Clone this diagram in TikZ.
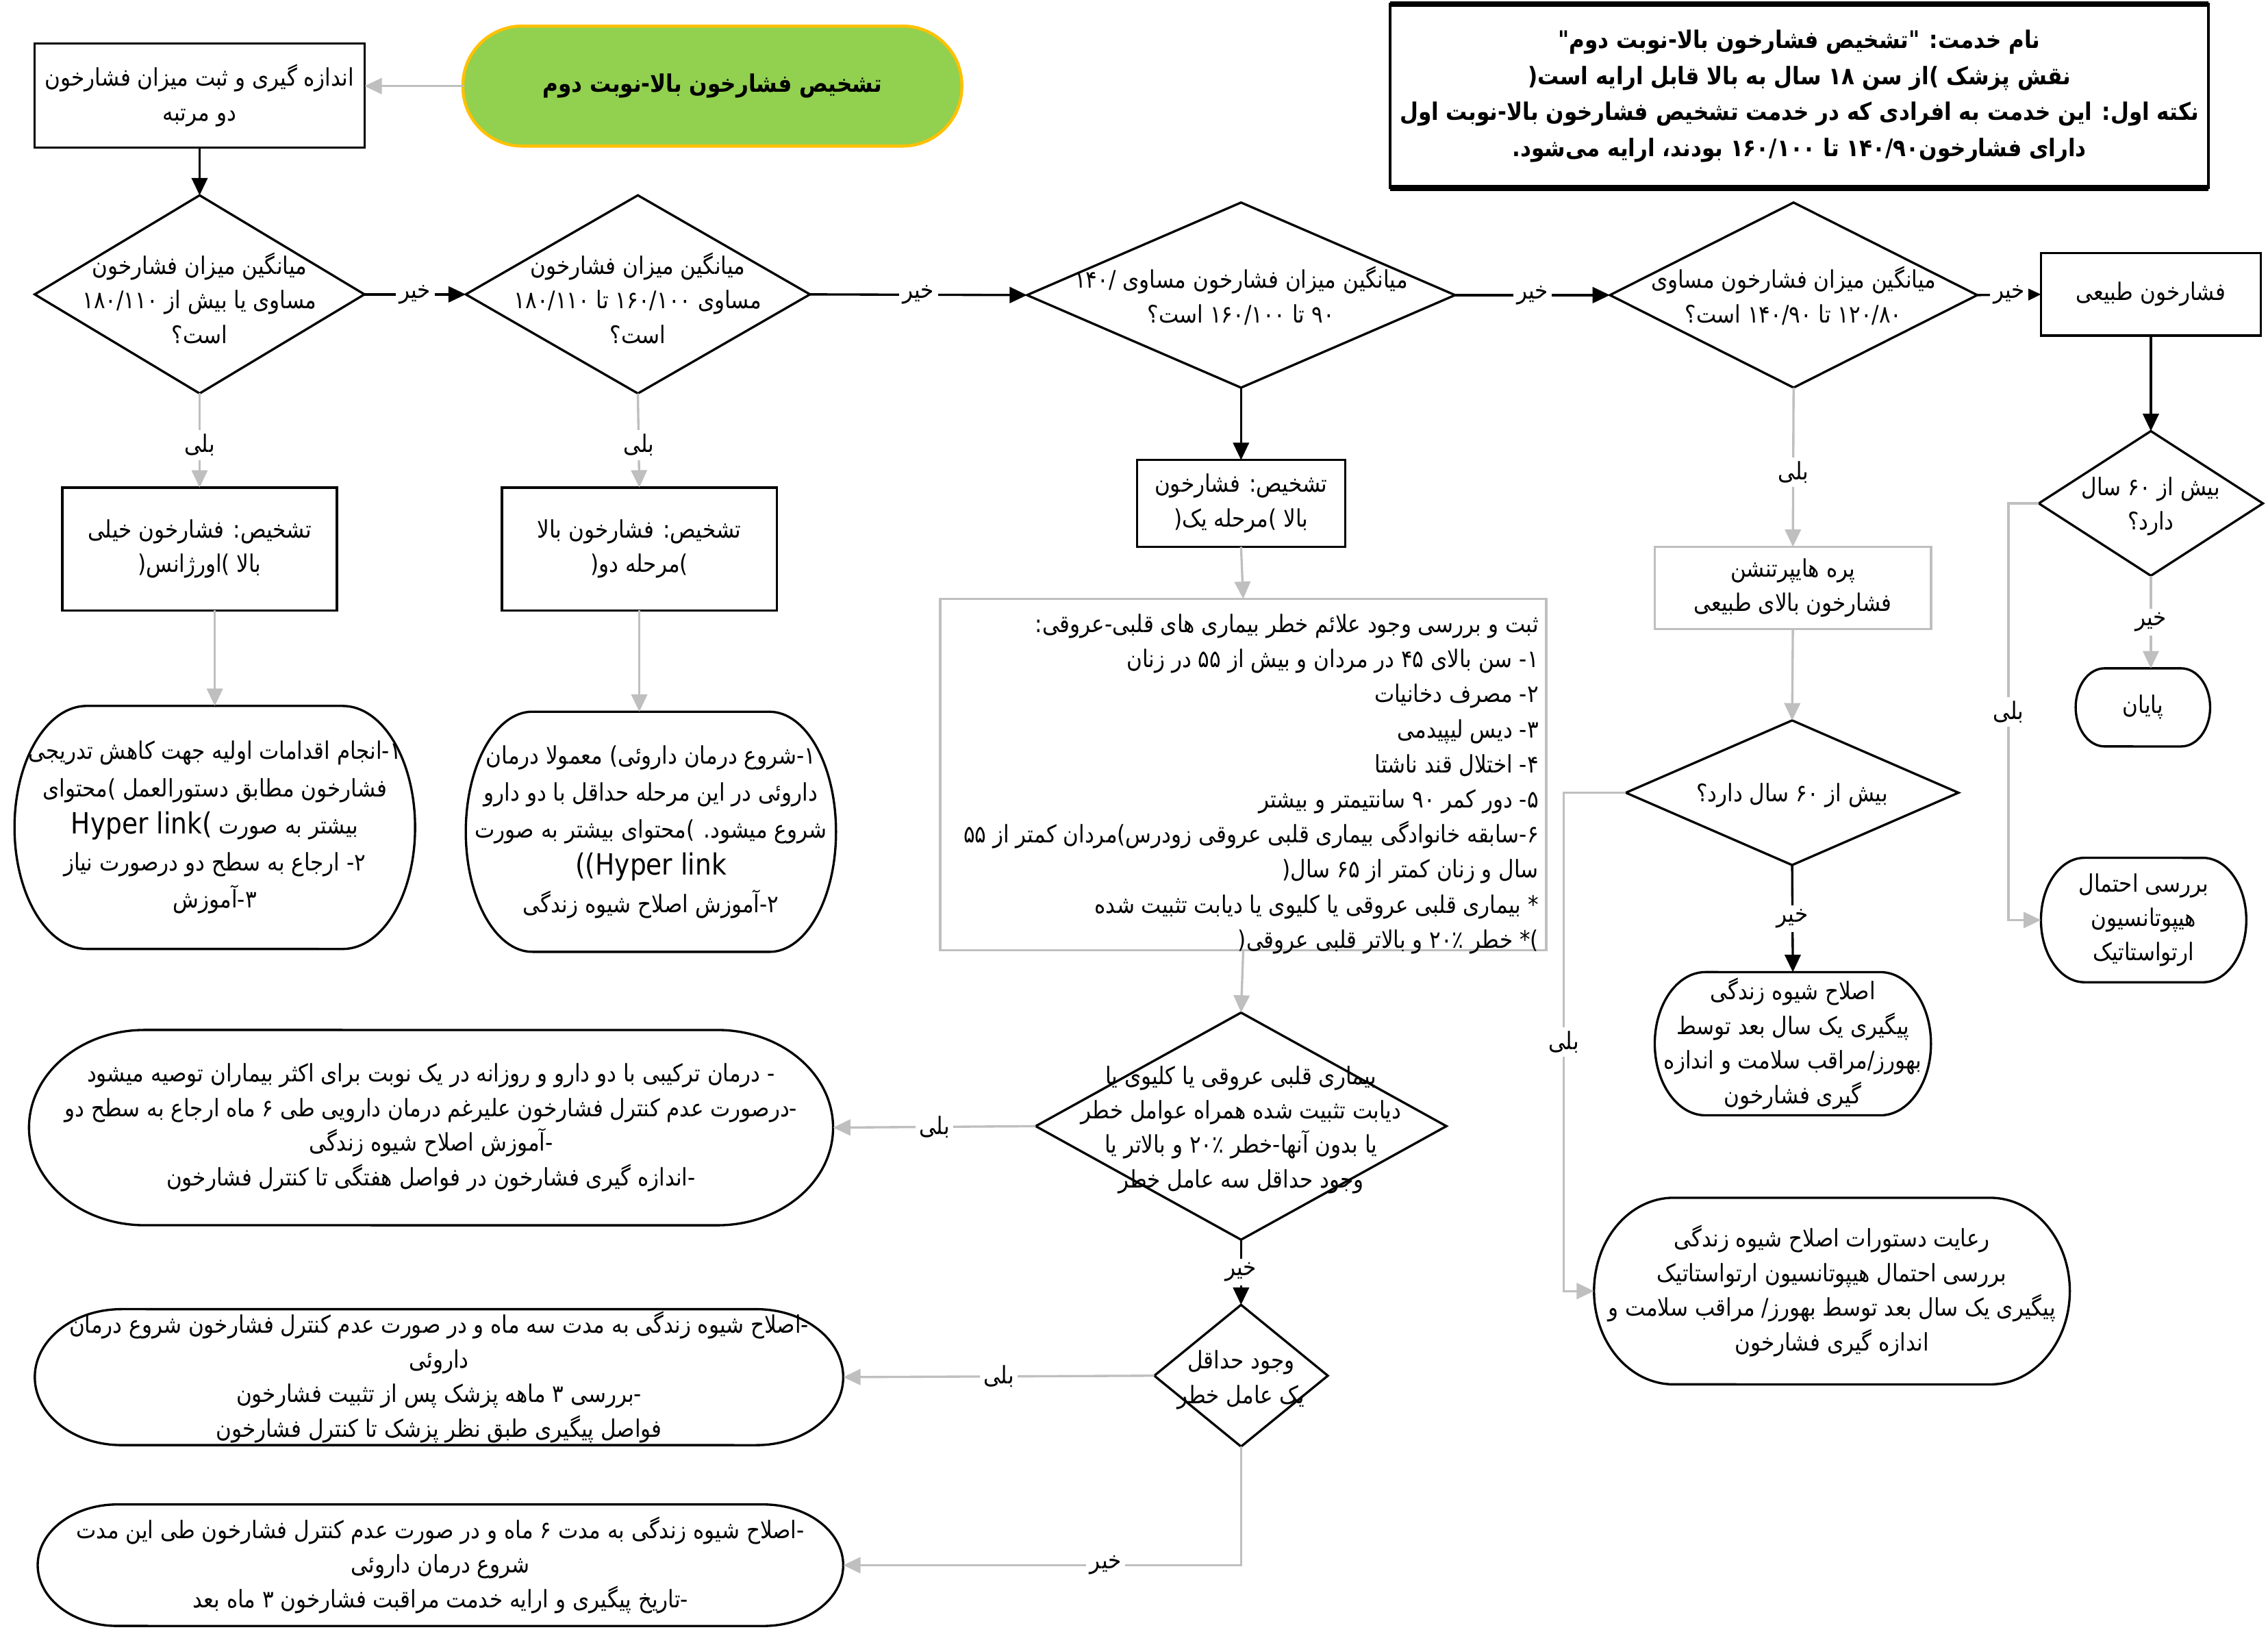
\documentclass[tikz,border=0pt]{standalone}
\usepackage{fontspec}
\usepackage{tikz}
\usetikzlibrary{arrows.meta,calc,shapes.geometric}
\TeXXeTstate=1
\newfontfamily\persfont[Script=Arabic,FakeStretch=0.88]{DejaVu Sans}
\newcommand\fs{\fontsize{9.5}{13.6}\selectfont}
\newcommand\rl[1]{\beginR #1\endR}
\newcommand\hlink[1]{\beginL{\fontsize{11.5}{13.6}\selectfont #1}\endL}
\definecolor{lgray}{RGB}{191,191,191}
\definecolor{startgreen}{RGB}{146,208,80}
\definecolor{startedge}{RGB}{255,192,0}
% outline of a terminator round a node: name, x radius, y radius
\newcommand\termline[3]{\draw[edge] ($(#1.north east)+(-#2,0)$) arc[start angle=90,end angle=-90,x radius=#2,y radius=#3] -- ($(#1.south west)+(#2,0)$) arc[start angle=270,end angle=90,x radius=#2,y radius=#3] -- cycle;}

\begin{document}
\begin{tikzpicture}[x=0.02cm,y=0.02cm,
  box/.style={draw,line width=0.9pt,outer sep=0pt,inner sep=2pt,align=center,font=\persfont\fs},
  gbox/.style={box,draw=lgray},
  start/.style={draw=startedge,fill=startgreen,line width=1.2pt,rounded corners=8.2mm,outer sep=0pt,font=\persfont\fs\bfseries},
  dec/.style={diamond,draw,line width=0.9pt,outer sep=0pt,inner sep=0pt},
  term/.style={outer sep=0pt,inner sep=0pt,align=center,font=\persfont\fs},
  txt/.style={align=center,font=\persfont\fs,inner sep=0pt},
  lbl/.style={font=\persfont\fs,fill=white,text=black,inner sep=1.5pt},
  edge/.style={line width=0.9pt},
  ar/.style={-{Triangle[length=2.4mm,width=2.2mm]},line width=0.9pt},
  gar/.style={ar,draw=lgray}]
\useasboundingbox (0,0) rectangle (1568,-1128);

% top row
\node[start,minimum width=6.9cm,minimum height=1.66cm] (st) at (492.5,-59.5) {\rl{تشخیص فشارخون بالا-نوبت دوم}};
\node[box,minimum width=4.56cm,minimum height=1.44cm] (boxa) at (138,-66) {\rl{اندازه گیری و ثبت میزان فشارخون}\\\rl{دو مرتبه}};
\node[box,line width=1pt,minimum width=11.32cm,minimum height=2.54cm,font=\persfont\fontsize{9.5}{14.2}\selectfont\bfseries] (info) at (1244,-66.5)
  {\rl{نام خدمت: "تشخیص فشارخون بالا-نوبت دوم"}\\\rl{نقش پزشک )از سن ۱۸ سال به بالا قابل ارایه است(}\\\rl{نکته اول: این خدمت به افرادی که در خدمت تشخیص فشارخون بالا-نوبت اول}\\\rl{دارای فشارخون۱۴۰/۹۰ تا ۱۶۰/۱۰۰ بودند، ارایه می‌شود.}};
\draw[line width=2.2pt] (info.north west) -- (info.north east) (info.south west) -- (info.south east);

% decisions on blood pressure
\node[dec,minimum width=4.56cm,minimum height=2.74cm] (d1) at (138,-203.5) {};
\node[txt] (d1t) at (138,-206) {\rl{میانگین میزان فشارخون}\\\rl{مساوی یا بیش از ۱۸۰/۱۱۰}\\\rl{است؟}};
\node[dec,minimum width=4.76cm,minimum height=2.74cm] (d2) at (441,-203.5) {};
\node[txt] (d2t) at (441,-206) {\rl{میانگین میزان فشارخون}\\\rl{مساوی ۱۶۰/۱۰۰ تا ۱۸۰/۱۱۰}\\\rl{است؟}};
\node[dec,minimum width=5.92cm,minimum height=2.56cm] (d3) at (858,-204) {};
\node[txt] (d3t) at (858,-204.5) {\rl{میانگین میزان فشارخون مساوی /۱۴۰}\\\rl{۹۰ تا ۱۶۰/۱۰۰ است؟}};
\node[dec,minimum width=5.08cm,minimum height=2.56cm] (d4) at (1240,-204) {};
\node[txt] (d4t) at (1240,-204.5) {\rl{میانگین میزان فشارخون مساوی}\\\rl{۱۲۰/۸۰ تا ۱۴۰/۹۰ است؟}};
\node[box,minimum width=3.04cm,minimum height=1.14cm] (nrm) at (1487,-203.5) {\rl{فشارخون طبیعی}};

% diagnoses
\node[box,minimum width=3.8cm,minimum height=1.7cm] (b1) at (138,-379.5) {\rl{تشخیص:  فشارخون خیلی}\\\rl{بالا )اورژانس(}};
\node[box,minimum width=3.8cm,minimum height=1.7cm] (b2) at (442,-379.5) {\rl{تشخیص:  فشارخون بالا}\\\rl{)مرحله دو(}};
\node[box,minimum width=2.88cm,minimum height=1.2cm] (b3) at (858,-348) {\rl{تشخیص:  فشارخون}\\\rl{بالا )مرحله یک(}};
\node[gbox,minimum width=3.82cm,minimum height=1.14cm] (b4) at (1239.5,-406.5) {\rl{پره هایپرتنشن}\\\rl{فشارخون بالای طبیعی}};

% actions
\node[term,minimum width=5.54cm,minimum height=3.36cm,font=\persfont\fontsize{9.5}{14.6}\selectfont] (r1) at (148.5,-572) {\rl{۱-انجام اقدامات اولیه جهت کاهش تدریجی}\\\rl{فشارخون مطابق دستورالعمل )محتوای}\\\rl{بیشتر به صورت \hlink{Hyper link(}}\\\rl{۲- ارجاع به سطح دو درصورت نیاز}\\\rl{۳-آموزش}};
\termline{r1}{50}{84}
\node[term,minimum width=5.12cm,minimum height=3.32cm,font=\persfont\fontsize{9.5}{14.6}\selectfont] (r2) at (450,-575) {\rl{۱-شروع درمان داروئی) معمولا درمان}\\\rl{داروئی در این مرحله حداقل با دو دارو}\\\rl{شروع میشود.  )محتوای بیشتر به صورت}\\\rl{\hlink{((Hyper link}}\\\rl{۲-آموزش اصلاح شیوه زندگی}};
\termline{r2}{46}{83}
\node[gbox,minimum width=8.38cm,minimum height=4.86cm] (c) at (859.5,-535.5) {};
\node[txt,align=right,anchor=east,font=\persfont\fontsize{9.5}{13.8}\selectfont] (ct) at (1064,-542)
  {\rl{ثبت و بررسی وجود علائم خطر بیماری های قلبی-عروقی:}\\\rl{۱- سن بالای ۴۵ در مردان و بیش از ۵۵ در زنان}\\\rl{۲- مصرف دخانیات}\\\rl{۳- دیس لیپیدمی}\\\rl{۴- اختلال قند ناشتا}\\\rl{۵- دور کمر ۹۰ سانتیمتر و بیشتر}\\\rl{۶-سابقه خانوادگی بیماری قلبی عروقی زودرس)مردان کمتر از ۵۵}\\\rl{سال و زنان کمتر از ۶۵ سال(}\\\rl{* بیماری قلبی عروقی یا کلیوی یا دیابت تثبیت شده}\\\rl{)* خطر ۲۰٪ و بالاتر قلبی عروقی(}};
\node[dec,minimum width=5.68cm,minimum height=3.14cm] (d5) at (858,-778.5) {};
\node[txt] (d5t) at (858,-781) {\rl{بیماری قلبی عروقی یا کلیوی یا}\\\rl{دیابت تثبیت شده همراه عوامل خطر}\\\rl{یا بدون آنها-خطر ۲۰٪ و بالاتر یا}\\\rl{وجود حداقل سه عامل خطر}};
\node[term,minimum width=11.12cm,minimum height=2.7cm] (r3) at (298,-779.5) {\rl{- درمان ترکیبی با دو دارو و روزانه در یک نوبت برای اکثر بیماران توصیه میشود}\\\rl{-درصورت عدم کنترل فشارخون علیرغم درمان دارویی طی ۶ ماه ارجاع به سطح دو}\\\rl{-آموزش اصلاح شیوه زندگی}\\\rl{-اندازه گیری فشارخون در فواصل هفتگی تا کنترل فشارخون}};
\termline{r3}{80}{67.5}
\node[dec,minimum width=2.4cm,minimum height=1.96cm] (d6) at (858,-951) {};
\node[txt] (d6t) at (858,-954) {\rl{وجود حداقل}\\\rl{یک عامل خطر}};
\node[term,minimum width=11.18cm,minimum height=1.88cm] (r4) at (303.5,-952) {\rl{-اصلاح شیوه زندگی به مدت سه ماه و در صورت عدم کنترل فشارخون شروع درمان}\\\rl{داروئی}\\\rl{-بررسی ۳ ماهه پزشک پس از تثبیت فشارخون}\\\rl{فواصل پیگیری طبق نظر پزشک تا کنترل فشارخون}};
\termline{r4}{60}{47}
\node[term,minimum width=11.14cm,minimum height=1.68cm] (r5) at (304.5,-1082) {\rl{-اصلاح شیوه زندگی  به مدت ۶ ماه و در صورت عدم کنترل فشارخون طی این مدت}\\\rl{شروع درمان داروئی}\\\rl{-تاریخ پیگیری و ارایه خدمت مراقبت فشارخون ۳ ماه بعد}};
\termline{r5}{55}{42}

% right part
\node[dec,minimum width=4.6cm,minimum height=2cm] (d7) at (1239,-548) {};
\node[txt] (d7t) at (1239,-550) {\rl{بیش از ۶۰ سال دارد؟}};
\node[term,minimum width=3.82cm,minimum height=1.98cm] (r6) at (1239.5,-721.5) {\rl{اصلاح شیوه زندگی}\\\rl{پیگیری یک سال بعد توسط}\\\rl{بهورز/مراقب سلامت و اندازه}\\\rl{گیری فشارخون}};
\termline{r6}{35}{49.5}
\node[term,minimum width=6.58cm,minimum height=2.58cm] (r7) at (1266.5,-892.5) {\rl{رعایت دستورات اصلاح شیوه زندگی}\\\rl{بررسی احتمال هیپوتانسیون ارتواستاتیک}\\\rl{پیگیری یک سال بعد توسط بهورز/ مراقب سلامت و}\\\rl{اندازه گیری فشارخون}};
\termline{r7}{55}{64.5}
\node[dec,minimum width=3.1cm,minimum height=2cm] (d8) at (1487,-348) {};
\node[txt] (d8t) at (1487,-350) {\rl{بیش از ۶۰ سال}\\\rl{دارد؟}};
\node[term,minimum width=1.86cm,minimum height=1.08cm] (r8) at (1481.5,-489) {\rl{پایان}};
\termline{r8}{20}{27}
\node[term,minimum width=2.84cm,minimum height=1.72cm] (r9) at (1482,-636) {\rl{بررسی احتمال}\\\rl{هیپوتانسیون}\\\rl{ارتواستاتیک}};
\termline{r9}{30}{43}

% connectors
\draw[gar] (st.west) -- (st.west -| boxa.east);
\draw[ar] (boxa.south) -- (d1.north);
\draw[ar] (d1.east) -- (d2.west) node[lbl,midway] {\rl{خیر}};
\draw[ar] (d2.east) -- (d3.west) node[lbl,midway] {\rl{خیر}};
\draw[ar] (d3.east) -- (d4.west) node[lbl,midway] {\rl{خیر}};
\draw[ar] (d4.east) -- (nrm.west) node[lbl,midway] {\rl{خیر}};
\draw[gar] (d1.south) -- (b1.north) node[lbl,pos=0.55] {\rl{بلی}};
\draw[gar] (d2.south) -- (b2.north) node[lbl,pos=0.55] {\rl{بلی}};
\draw[ar] (d3.south) -- (b3.north);
\draw[gar] (d4.south) -- (b4.north) node[lbl,pos=0.53] {\rl{بلی}};
\draw[gar] (r1.north |- b1.south) -- (r1.north);
\draw[gar] (b2.south) -- (b2.south |- r2.north);
\draw[gar] (b3.south) -- (c.north);
\draw[gar] (c.south) -- (d5.north);
\draw[gar] (d5.west) -- (r3.east) node[lbl,midway] {\rl{بلی}};
\draw[ar] (d5.south) -- (d6.north) node[lbl,midway] {\rl{خیر}};
\draw[gar] (d6.west) -- (r4.east) node[lbl,midway] {\rl{بلی}};
\draw[gar] (d6.south) |- (r5.east) node[lbl,pos=0.67] {\rl{خیر}};
\draw[gar] (b4.south) -- (d7.north);
\draw[ar] (d7.south) -- (r6.north) node[lbl,midway] {\rl{خیر}};
\draw[gar] (d7.west) -- ++(-43,0) |- (r7.west) node[lbl,pos=0.25] {\rl{بلی}};
\draw[ar] (nrm.south) -- (d8.north);
\draw[gar] (d8.south) -- (d8.south |- r8.north) node[lbl,midway] {\rl{خیر}};
\draw[gar] (d8.west) -- ++(-21,0) |- (r9.west) node[lbl,pos=0.25] {\rl{بلی}};
\end{tikzpicture}
\end{document}
